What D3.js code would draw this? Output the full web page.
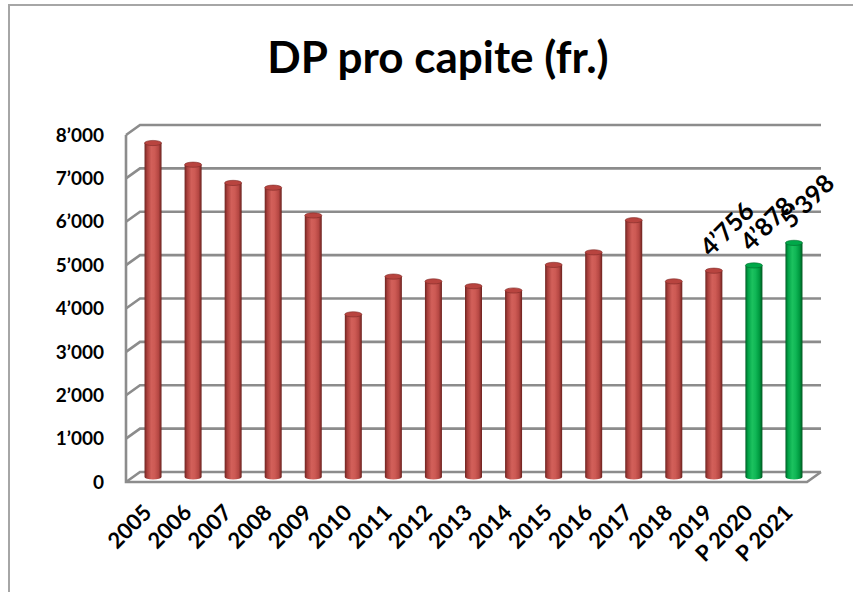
<!DOCTYPE html>
<html lang="en">
<head>
  <meta charset="UTF-8">
  <title>DP pro capite (fr.)</title>
  <style>
    body { margin: 0; background: #fff; }
    text { font-family: Lato, "Open Sans", sans-serif; font-weight: bold; fill: #000; }
  </style>
</head>
<body>
  <svg width="853" height="592"></svg>
  <script src="https://d3js.org/d3.v7.min.js"></script>
  <script>
    const width = 853, height = 592;

    // data
    const years = ["2005", "2006", "2007", "2008", "2009", "2010", "2011", "2012", "2013",
                   "2014", "2015", "2016", "2017", "2018", "2019", "P 2020", "P 2021"];
    const values = [7700, 7200, 6780, 6670, 6030, 3750, 4620, 4510, 4400,
                    4300, 4890, 5180, 5920, 4510, 4756, 4878, 5398];
    const labelled = ["2019", "P 2020", "P 2021"];
    const yTicks = [0, 1000, 2000, 3000, 4000, 5000, 6000, 7000, 8000];

    const fmt = v => d3.format(",")(v).replace(/,/g, "\u2019");

    // plot geometry (front plane) and 3d depth offset
    const left = 126, right = 807, floorY = 482, topY = 135;
    const depth = { dx: 14, dy: -10 };

    const svg = d3.select("svg");

    const x = d3.scaleBand().domain(years).range([left, right]).padding(0);
    const y = d3.scaleLinear().domain([0, 8000]).range([floorY, topY]);

    // outer chart border
    svg.append("rect")
      .attr("x", 9).attr("y", 5)
      .attr("width", 900).attr("height", 700)
      .attr("fill", "none")
      .attr("stroke", "#a6a6a6")
      .attr("stroke-width", 2);

    svg.append("text")
      .attr("x", 438).attr("y", 73)
      .attr("text-anchor", "middle")
      .style("font-size", "44px")
      .text("DP pro capite (fr.)");

    // walls and gridlines
    const grid = svg.append("g")
      .attr("fill", "none")
      .attr("stroke", "#8c8c8c")
      .attr("stroke-width", 2.6);

    grid.selectAll("path.gl")
      .data(yTicks)
      .join("path")
      .attr("class", "gl")
      .attr("d", d => `M${left},${y(d)} L${left + depth.dx},${y(d) + depth.dy} L${right + depth.dx},${y(d) + depth.dy}`);

    // left axis line and floor
    grid.append("path")
      .attr("d", `M${left},${topY} L${left},${floorY} L${right},${floorY} L${right + depth.dx},${floorY + depth.dy}`);

    // y labels
    svg.append("g")
      .selectAll("text")
      .data(yTicks)
      .join("text")
      .attr("x", 104)
      .attr("y", d => y(d))
      .attr("dy", "0.35em")
      .attr("text-anchor", "end")
      .style("font-size", "19px")
      .text(fmt);

    // gradients for cylinders
    const defs = svg.append("defs");
    const grads = {
      red: ["#6e2421", "#a83f3b", "#d2605a", "#cd5a54", "#b54743", "#6a211e"],
      green: ["#005c24", "#00a246", "#1cc25f", "#10b756", "#009a40", "#00561f"]
    };
    Object.entries(grads).forEach(([name, stops]) => {
      const g = defs.append("linearGradient").attr("id", "g-" + name)
        .attr("x1", "0%").attr("x2", "100%").attr("y1", "0%").attr("y2", "0%");
      const offs = [0, 0.15, 0.4, 0.6, 0.82, 1];
      stops.forEach((c, i) => g.append("stop").attr("offset", offs[i]).attr("stop-color", c));
    });
    const capColor = { red: "#b8443f", green: "#00a849" };
    const capEdge = { red: "#7e2a27", green: "#006b2c" };

    const barW = 17, ry = 2.6;
    const mid = { dx: depth.dx / 2, dy: depth.dy / 2 };
    const cx = d => x(d) + x.bandwidth() / 2 + mid.dx;
    const kind = d => d.startsWith("P") ? "green" : "red";

    const bars = svg.append("g")
      .selectAll("g")
      .data(years.map((d, i) => ({ year: d, value: values[i] })))
      .join("g");

    bars.append("path")
      .attr("fill", d => `url(#g-${kind(d.year)})`)
      .attr("d", d => {
        const x0 = cx(d.year) - barW / 2, x1 = cx(d.year) + barW / 2;
        const yb = y(0) + mid.dy, yt = y(d.value) + mid.dy;
        return `M${x0},${yt} L${x0},${yb} A${barW / 2},${ry} 0 0 0 ${x1},${yb} L${x1},${yt} Z`;
      });

    bars.append("ellipse")
      .attr("cx", d => cx(d.year))
      .attr("cy", d => y(d.value) + mid.dy)
      .attr("rx", barW / 2)
      .attr("ry", ry)
      .attr("fill", d => capColor[kind(d.year)])
      .attr("stroke", d => capEdge[kind(d.year)])
      .attr("stroke-width", 0.6);

    // data labels
    svg.append("g")
      .selectAll("text")
      .data(years.map((d, i) => ({ year: d, value: values[i] })).filter(d => labelled.includes(d.year)))
      .join("text")
      .attr("transform", d => `translate(${cx(d.year) - 3},${y(d.value) + mid.dy - 13}) rotate(-45)`)
      .style("font-size", "25px")
      .text(d => fmt(d.value));

    // x labels
    svg.append("g")
      .selectAll("text")
      .data(years)
      .join("text")
      .attr("transform", d => `translate(${cx(d)},${floorY + 32}) rotate(-45)`)
      .attr("text-anchor", "end")
      .style("font-size", "22px")
      .text(d => d);
  </script>
</body>
</html>
